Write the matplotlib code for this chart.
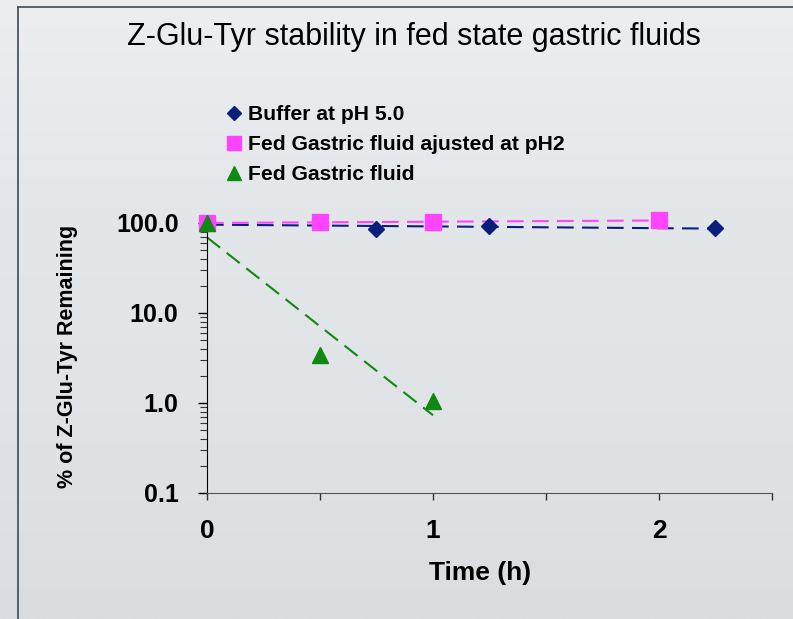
import numpy as np
import matplotlib
matplotlib.use("Agg")
import matplotlib.pyplot as plt
from matplotlib.lines import Line2D
from matplotlib.font_manager import FontProperties
from matplotlib.ticker import FixedLocator, LogLocator, NullFormatter

# data (time in h, % remaining)
buffer_t = [0, 0.75, 1.25, 2.25]
buffer_pct = [100, 86, 92, 88]
adj_t = [0, 0.5, 1, 2]
adj_pct = [100, 102.5, 102.5, 107]
fed_t = [0, 0.5, 1]
fed_pct = [100, 3.4, 1.05]

y_ticks = [0.1, 1, 10, 100]
y_labels = ["0.1", "1.0", "10.0", "100.0"]
x_ticks = [0, 0.5, 1, 1.5, 2, 2.5]
x_labels = ["0", "", "1", "", "2", ""]


def _font(size, weight="normal"):
    return FontProperties(family=["Liberation Sans", "DejaVu Sans"],
                          size=size, weight=weight)


def _exp_trend(t, y):
    # excel style exponential trendline
    k, b = np.polyfit(t, np.log10(y), 1)
    tt = np.array([min(t), max(t)])
    return tt, 10 ** (k * tt + b)


def _main():
    fig = plt.figure(figsize=(7.93, 6.19), dpi=100)

    # soft vertical background gradient
    bg = fig.add_axes([0, 0, 1, 1], zorder=-10)
    grad = np.linspace(0, 1, 256).reshape(-1, 1)
    cmap = matplotlib.colors.LinearSegmentedColormap.from_list(
        "bg", ["#eceeef", "#e4e7ea", "#e1e4e6", "#d9dddf"])
    bg.imshow(grad, aspect="auto", cmap=cmap, extent=[0, 1, 0, 1])
    bg.axis("off")

    # frame line of the slide
    fig.add_artist(Line2D([18 / 793, 18 / 793], [0, 1 - 7 / 619],
                          color="#3f4a55", lw=1.2, transform=fig.transFigure))
    fig.add_artist(Line2D([18 / 793, 1], [1 - 7 / 619, 1 - 7 / 619],
                          color="#3f4a55", lw=1.2, transform=fig.transFigure))

    ax = fig.add_axes([207 / 793, 1 - 492.7 / 619, 565 / 793, 269.7 / 619])
    ax.set_facecolor("none")
    ax.set_yscale("log")
    ax.set_ylim(0.1, 100)
    ax.set_xlim(0, 2.5)

    series = [
        (buffer_t, buffer_pct, "#0a1f7a", "D", 8, 7, "Buffer at pH 5.0"),
        (adj_t, adj_pct, "#ff44ff", "s", 11, 10,
         "Fed Gastric fluid ajusted at pH2"),
        (fed_t, fed_pct, "#118811", "^", 11, 10, "Fed Gastric fluid"),
    ]
    handles = []
    for t, y, col, mk, ms, _, name in series:
        tt, yy = _exp_trend(t, y)
        ax.plot(tt, yy, color=col, lw=1.5, ls=(0, (8, 4)), clip_on=False,
                zorder=2)
        h, = ax.plot(t, y, ls="none", marker=mk, ms=ms, color=col,
                     clip_on=False, zorder=3, label=name)
        handles.append(h)

    for side in ("top", "right"):
        ax.spines[side].set_visible(False)
    ax.spines["left"].set_color("black")
    ax.spines["bottom"].set_color("#555555")

    ax.yaxis.set_major_locator(FixedLocator(y_ticks))
    ax.set_yticklabels(y_labels, fontproperties=_font(18, "bold"))
    ax.yaxis.set_minor_locator(LogLocator(base=10, subs=np.arange(2, 10)))
    ax.yaxis.set_minor_formatter(NullFormatter())
    ax.tick_params(axis="y", which="major", length=6.5, width=1, pad=14)
    ax.tick_params(axis="y", which="minor", length=5, width=0.8,
                   color="#333333")

    ax.xaxis.set_major_locator(FixedLocator(x_ticks))
    ax.set_xticklabels(x_labels, fontproperties=_font(19, "bold"))
    ax.tick_params(axis="x", length=5, width=1, pad=14, color="#333333")

    ax.set_xlabel("Time (h)", fontproperties=_font(19, "bold"))
    ax.xaxis.set_label_coords((480 - 207) / 565, -(561 - 492.7) / 269.7)
    ax.set_ylabel("% of Z-Glu-Tyr Remaining",
                  fontproperties=_font(15.5, "bold"))
    ax.yaxis.set_label_coords(-(207 - 78) / 565, (492.7 - 356) / 269.7)

    fig.text(0.522, 1 - 37 / 619, "Z-Glu-Tyr stability in fed state gastric fluids",
             ha="center", va="center", fontproperties=_font(22))

    leg = fig.legend(handles=handles, loc="upper left",
                     bbox_to_anchor=(226 / 793, 1 - 105 / 619), frameon=False,
                     prop=_font(15.2, "bold"),
                     handlelength=0.8, handletextpad=0.25, labelspacing=0.52,
                     borderpad=0, borderaxespad=0)
    for h, s in zip(leg.legend_handles, series):
        h.set_markersize(s[5])

    fig.savefig("out.png", dpi=100)


if __name__ == "__main__":
    _main()
